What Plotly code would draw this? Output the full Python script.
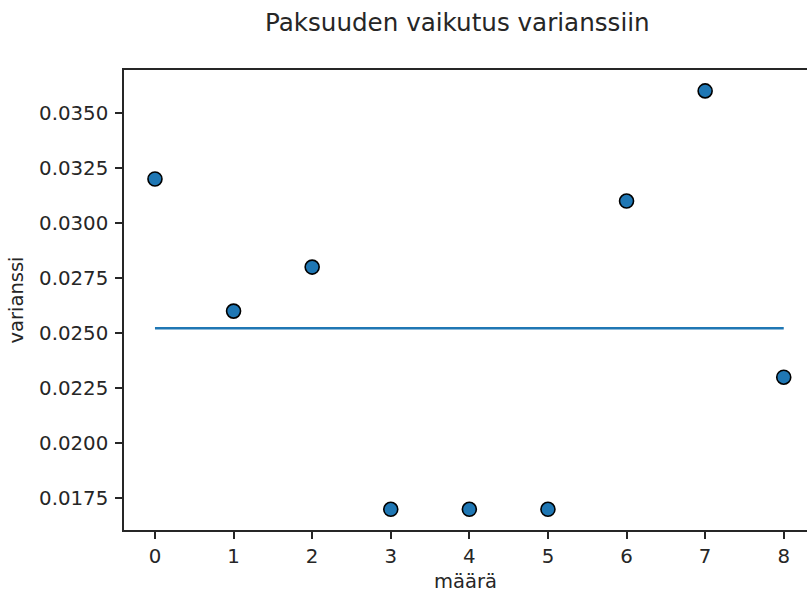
import plotly.graph_objects as go

maara = [0, 1, 2, 3, 4, 5, 6, 7, 8]
varianssi = [0.032, 0.026, 0.028, 0.017, 0.017, 0.017, 0.031, 0.036, 0.023]
line_x = [0, 8]
line_y = [0.02522, 0.02522]
x_ticks = [0, 1, 2, 3, 4, 5, 6, 7, 8]
y_ticks = [0.0175, 0.0200, 0.0225, 0.0250, 0.0275, 0.0300, 0.0325, 0.0350]

FONT = "DejaVu Sans"
BLUE = "#1f77b4"

fig = go.Figure()
fig.add_trace(go.Scatter(x=line_x, y=line_y, mode="lines",
                         line=dict(color=BLUE, width=2.5), showlegend=False))
fig.add_trace(go.Scatter(x=maara, y=varianssi, mode="markers",
                         marker=dict(color=BLUE, size=14, line=dict(color="black", width=1.6)),
                         showlegend=False))

fig.update_layout(
    width=807, height=594,
    margin=dict(l=124, r=0, t=70, b=64),
    paper_bgcolor="white", plot_bgcolor="white",
    font=dict(family=FONT, size=19.8, color="#262626"),
    title=dict(text="Paksuuden vaikutus varianssiin", x=0.5667, xanchor="center",
               y=1 - 22 / 594, yanchor="middle", font=dict(size=24.6, color="#262626")),
    xaxis=dict(range=[-0.394, 8.296], tickvals=x_ticks, ticks="outside", ticklen=7,
               tickwidth=1.5, tickcolor="#262626", showline=True, linecolor="#262626",
               linewidth=1.5, mirror=True, showgrid=False, zeroline=False,
               title=dict(text="määrä", standoff=8, font=dict(size=19.5))),
    yaxis=dict(range=[0.01606, 0.03695], tickvals=y_ticks, tickformat=".4f", ticks="outside",
               ticklen=7, tickwidth=1.5, tickcolor="#262626", showline=True,
               linecolor="#262626", linewidth=1.5, showgrid=False, zeroline=False,
               ticklabelstandoff=3,
               title=dict(text="varianssi", standoff=10, font=dict(size=19.5))),
)

fig.write_html("out.html")
